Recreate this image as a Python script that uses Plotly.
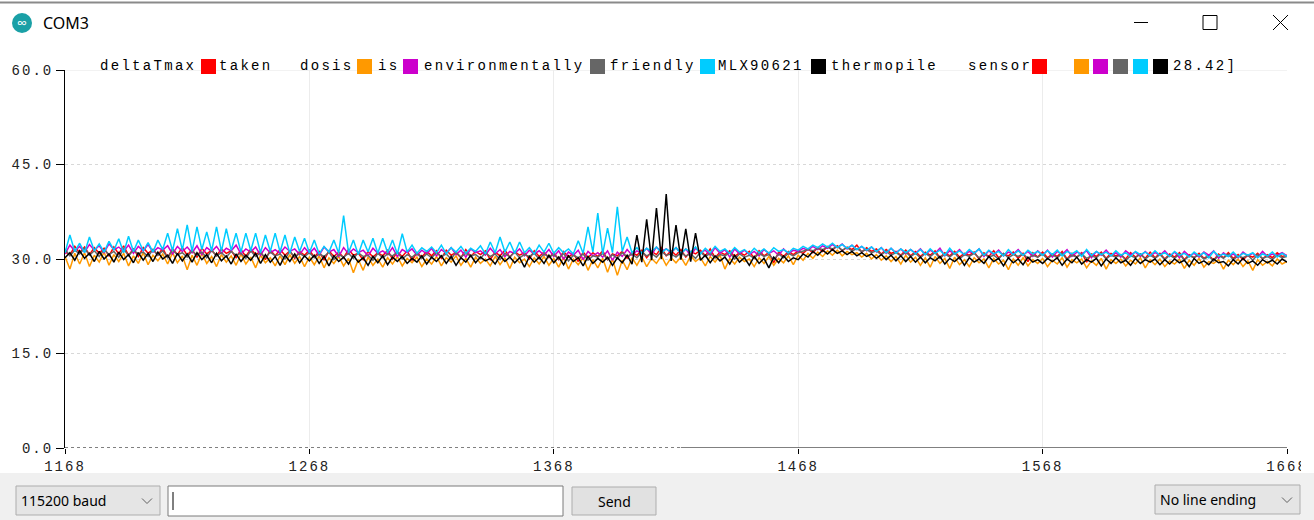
import numpy as np
import plotly.graph_objects as go

W, H = 1314, 520
def px(x): return x / W
def py(y): return 1 - y / H

# ---------------- data ----------------
x_start, x_step = 1168, 2
x_ticks = [1168, 1268, 1368, 1468, 1568, 1668]
x_tick_labels = ["1168", "1268", "1368", "1468", "1568", "1668"]
y_ticks = [0, 15, 30, 45, 60]
y_tick_labels = ["0.0", "15.0", "30.0", "45.0", "60.0"]

taken = [
    31.2, 30.6, 32.0, 31.0, 31.9, 30.7, 31.8, 30.9, 31.7, 30.5, 31.9, 30.8, 32.1, 30.6, 31.6, 30.4, 31.8, 30.9, 31.5, 30.6, 31.7, 30.2, 31.6, 30.7, 31.8,
    30.6, 31.5, 30.3, 31.7, 30.8, 31.4, 30.5, 31.6, 30.9, 31.3, 30.2, 31.5, 30.4, 31.6, 30.7, 31.2, 29.9, 31.4, 30.5, 31.5, 30.6, 31.3, 30.1, 31.2, 30.6,
    31.4, 30.3, 31.2, 29.8, 31.3, 30.4, 31.1, 30.2, 31.5, 30.6, 30.9, 29.9, 31.2, 30.3, 31.0, 30.5, 31.4, 30.0, 31.1, 30.4, 31.3, 29.8, 31.0, 30.3, 31.2,
    30.5, 31.3, 30.1, 31.4, 30.6, 31.0, 30.2, 31.5, 30.4, 31.2, 30.7, 31.3, 29.9, 31.1, 30.5, 31.4, 30.3, 31.2, 30.6, 31.0, 30.0, 31.3, 30.4, 31.1, 30.2,
    31.0, 29.9, 31.2, 30.3, 30.9, 29.6, 31.1, 30.2, 31.0, 30.4, 31.3, 29.9, 30.8, 30.5, 31.2, 30.1, 31.0, 30.6, 31.4, 30.2, 31.2, 30.7, 31.8, 30.5, 31.3,
    30.6, 31.5, 30.3, 31.2, 30.8, 31.4, 30.5, 31.6, 30.2, 31.1, 30.7, 31.3, 30.4, 31.0, 30.6, 31.2, 30.1, 31.3, 30.5, 31.0, 29.4, 31.1, 30.4, 31.2, 30.7,
    31.3, 30.9, 31.6, 31.0, 31.8, 31.2, 32.0, 31.4, 32.1, 31.3, 31.9, 31.5, 32.2, 31.1, 31.8, 31.2, 31.6, 30.8, 31.5, 30.9, 31.2, 30.6, 31.4, 30.5, 31.2,
    30.4, 31.1, 30.6, 31.3, 30.2, 31.0, 30.5, 31.2, 30.3, 30.9, 30.6, 31.1, 30.0, 31.0, 30.4, 31.3, 30.2, 30.8, 30.5, 31.1, 30.1, 30.9, 29.6, 31.0, 30.3,
    31.1, 30.2, 30.8, 30.4, 31.2, 30.0, 30.9, 30.3, 31.0, 29.5, 30.8, 30.4, 31.1, 30.1, 30.9, 30.5, 30.7, 30.0, 31.0, 30.3, 30.8, 30.1, 31.1, 30.2, 30.9,
    30.0, 30.8, 30.3, 31.0, 29.9, 30.7, 30.2, 30.9, 30.1, 30.6, 29.8, 30.8, 30.2, 31.0, 30.1, 30.7, 29.9, 30.6, 30.3, 30.9, 30.0, 30.7, 30.2, 31.0, 30.4,
    30.6,
]

is_ = [
    30.4, 28.4, 30.9, 29.2, 31.0, 28.8, 30.6, 29.5, 31.1, 29.0, 30.7, 29.6, 30.9, 28.9, 30.5, 29.3, 31.0, 29.1, 30.6, 29.7, 30.8, 29.2, 31.0, 29.4, 30.5,
    28.3, 30.6, 29.0, 30.9, 29.3, 30.4, 28.8, 30.7, 29.5, 30.5, 29.0, 30.8, 29.2, 30.3, 28.6, 30.6, 29.4, 30.2, 28.9, 30.5, 29.1, 30.7, 29.3, 30.4, 28.8,
    30.3, 29.1, 30.5, 28.6, 30.2, 29.3, 30.4, 28.9, 30.1, 27.8, 29.9, 28.2, 30.3, 29.0, 30.0, 28.7, 30.2, 29.2, 30.4, 28.9, 30.1, 29.4, 30.3, 28.8, 30.0,
    29.2, 30.4, 28.9, 30.2, 29.5, 30.5, 29.0, 30.1, 28.7, 30.3, 29.3, 30.0, 28.9, 30.4, 29.1, 30.2, 28.5, 30.3, 29.4, 30.0, 28.8, 30.2, 29.2, 30.4, 29.0,
    30.1, 28.7, 30.3, 28.4, 30.0, 29.1, 30.2, 28.2, 29.9, 28.6, 30.1, 27.9, 30.0, 27.4, 29.8, 28.3, 30.2, 29.0, 30.4, 28.8, 30.1, 29.3, 30.5, 29.0, 30.2,
    29.4, 30.3, 29.0, 30.5, 29.6, 30.2, 28.9, 30.4, 29.5, 30.6, 28.4, 30.1, 29.2, 30.3, 29.6, 30.0, 28.8, 30.2, 29.3, 30.4, 29.0, 30.1, 29.4, 30.5, 29.1,
    30.6, 29.8, 30.9, 30.1, 31.1, 30.4, 31.3, 30.6, 31.4, 30.5, 31.2, 30.7, 31.0, 30.3, 30.9, 30.0, 30.7, 29.8, 30.5, 29.6, 30.4, 29.2, 30.6, 29.5, 30.3,
    29.0, 30.2, 28.7, 30.4, 29.3, 30.1, 28.5, 30.3, 29.1, 29.9, 28.8, 30.2, 29.4, 30.0, 28.6, 30.1, 29.2, 29.8, 28.3, 30.0, 29.0, 30.2, 28.9, 29.9, 29.3,
    30.1, 28.8, 29.8, 29.2, 30.2, 28.7, 29.9, 29.4, 30.0, 28.6, 29.7, 29.0, 30.1, 28.4, 29.9, 29.3, 30.0, 28.9, 29.8, 29.2, 30.2, 28.6, 29.9, 29.1, 30.0,
    28.8, 29.7, 29.2, 30.0, 28.5, 29.8, 29.0, 30.1, 28.7, 29.6, 29.3, 29.9, 28.4, 29.8, 29.1, 30.0, 28.8, 29.7, 28.2, 29.9, 29.0, 29.6, 28.9, 30.0, 29.2,
    29.6,
]

environmentally = [
    30.8, 32.2, 31.3, 32.0, 31.1, 32.3, 31.4, 32.1, 31.0, 32.4, 31.5, 31.9, 31.2, 32.2, 30.9, 32.0, 31.3, 32.3, 31.1, 31.8, 31.4, 32.1, 30.8, 32.0, 31.2,
    31.9, 31.0, 32.1, 30.7, 31.8, 31.2, 32.0, 30.9, 31.7, 31.3, 32.2, 30.8, 31.6, 31.1, 31.9, 30.6, 31.8, 31.0, 31.5, 30.9, 31.9, 31.2, 31.6, 30.7, 31.8,
    30.9, 31.7, 30.6, 31.9, 31.1, 31.5, 30.4, 31.8, 30.8, 31.6, 31.0, 31.4, 30.5, 31.7, 30.9, 31.3, 30.7, 31.8, 30.4, 31.5, 31.0, 31.6, 30.6, 31.4, 30.8,
    31.7, 30.5, 31.5, 30.9, 31.8, 30.7, 31.4, 30.3, 31.6, 31.0, 31.3, 30.6, 31.7, 30.8, 31.5, 30.4, 31.2, 30.9, 31.6, 30.5, 31.4, 30.8, 31.3, 30.6, 31.5,
    30.4, 31.3, 30.0, 31.1, 30.6, 31.4, 29.9, 31.2, 30.5, 31.0, 30.3, 31.3, 29.8, 31.1, 30.4, 31.5, 30.6, 31.3, 30.9, 31.7, 30.7, 31.9, 31.2, 31.6, 31.0,
    31.8, 30.8, 31.6, 30.5, 31.7, 31.0, 31.4, 30.6, 31.8, 30.9, 31.5, 30.3, 31.6, 30.8, 31.4, 30.7, 31.2, 30.5, 31.5, 30.9, 31.3, 30.6, 31.6, 30.8, 31.4,
    31.2, 31.7, 31.4, 32.0, 31.5, 32.1, 31.7, 32.3, 31.8, 32.4, 31.6, 32.2, 31.5, 32.0, 31.3, 31.9, 31.1, 31.8, 30.9, 31.7, 31.0, 31.6, 30.8, 31.5, 30.9,
    31.6, 30.7, 31.4, 30.9, 31.7, 30.5, 31.3, 30.8, 31.5, 30.6, 31.2, 30.9, 31.6, 30.4, 31.3, 30.7, 31.4, 30.5, 31.1, 30.8, 31.5, 30.6, 31.2, 30.4, 31.3,
    30.6, 31.4, 30.3, 31.2, 30.7, 31.5, 30.4, 31.1, 30.8, 31.3, 30.2, 31.2, 30.6, 31.4, 30.5, 31.0, 30.3, 31.3, 30.7, 31.1, 30.4, 31.2, 30.5, 31.0, 30.6,
    31.3, 30.4, 31.1, 30.2, 31.2, 30.5, 30.9, 30.3, 31.1, 30.6, 31.3, 30.1, 31.0, 30.4, 30.8, 30.2, 31.1, 30.5, 30.9, 30.3, 31.2, 30.4, 30.8, 30.6, 31.0,
    30.5,
]

friendly = [
    31.6, 30.5, 31.4, 30.8, 31.7, 30.6, 31.3, 30.4, 31.5, 30.7, 31.2, 30.3, 31.6, 30.5, 31.4, 30.8, 31.1, 30.4, 31.5, 30.6, 31.3, 30.2, 31.4, 30.7, 31.0,
    30.3, 31.3, 30.6, 31.1, 30.2, 31.4, 30.5, 31.0, 30.3, 31.2, 30.6, 30.9, 30.1, 31.3, 30.4, 31.0, 30.2, 31.1, 30.5, 30.8, 30.0, 31.2, 30.3, 30.9, 30.4,
    31.0, 30.2, 30.8, 30.4, 31.1, 29.9, 30.7, 30.3, 30.9, 30.1, 31.0, 30.4, 30.6, 29.8, 30.9, 30.2, 30.8, 30.5, 31.1, 30.0, 30.7, 30.3, 30.9, 30.1, 30.8,
    30.2, 31.0, 30.4, 30.8, 30.0, 31.1, 30.3, 30.9, 30.5, 30.7, 30.1, 31.0, 30.4, 30.8, 29.9, 30.9, 30.3, 31.1, 30.2, 30.7, 30.4, 30.9, 30.0, 30.8, 30.3,
    30.7, 30.0, 30.9, 29.7, 30.6, 30.2, 30.8, 29.8, 30.5, 30.3, 30.9, 29.9, 30.7, 30.1, 31.0, 30.4, 30.8, 30.2, 31.1, 30.5, 30.9, 30.3, 31.2, 30.6, 30.8,
    30.3, 31.0, 30.5, 30.8, 30.1, 31.1, 30.4, 30.9, 30.2, 30.7, 30.5, 31.0, 30.0, 30.8, 30.3, 30.6, 30.1, 30.9, 30.4, 30.7, 29.9, 30.8, 30.2, 30.9, 30.5,
    31.0, 31.2, 31.5, 31.3, 31.7, 31.5, 31.9, 31.6, 32.0, 31.4, 31.8, 31.3, 31.6, 31.2, 31.5, 31.0, 31.3, 30.7, 31.2, 30.6, 31.0, 30.5, 31.1, 30.4, 30.9,
    30.2, 30.9, 30.4, 31.0, 30.1, 30.8, 30.3, 31.0, 30.0, 30.7, 30.4, 30.9, 30.2, 30.8, 30.3, 30.6, 30.0, 30.9, 30.2, 30.7, 30.4, 30.8, 30.1, 30.6, 30.3,
    30.8, 30.0, 30.7, 30.2, 30.9, 29.9, 30.6, 30.3, 30.8, 30.1, 30.5, 30.2, 30.9, 30.0, 30.6, 30.3, 30.7, 29.8, 30.5, 30.2, 30.8, 30.0, 30.6, 30.1, 30.7,
    29.9, 30.6, 30.1, 30.8, 29.8, 30.5, 30.2, 30.7, 30.0, 30.4, 29.7, 30.6, 30.1, 30.8, 29.9, 30.5, 30.2, 30.6, 29.8, 30.7, 30.1, 30.4, 29.9, 30.6, 30.2,
    30.4,
]

MLX90621 = [
    31.0, 33.8, 31.2, 32.5, 31.0, 33.5, 31.3, 32.4, 31.1, 32.8, 31.4, 33.2, 31.0, 33.6, 31.2, 33.0, 31.3, 32.6, 31.1, 33.0, 31.5, 34.1, 31.3, 34.8, 31.4,
    35.4, 31.2, 35.1, 31.5, 34.3, 31.3, 35.1, 31.2, 34.8, 31.4, 34.1, 31.1, 34.1, 31.3, 34.1, 31.0, 33.8, 31.2, 34.1, 31.1, 33.8, 30.9, 33.5, 31.2, 33.3,
    31.0, 33.0, 30.8, 32.0, 31.1, 33.0, 30.9, 36.9, 31.0, 33.0, 30.7, 33.0, 31.1, 33.3, 30.9, 33.3, 31.0, 33.0, 30.8, 34.0, 31.1, 32.2, 30.9, 31.8, 31.2,
    31.9, 31.0, 32.2, 30.8, 31.8, 31.1, 32.0, 30.9, 31.7, 31.2, 32.1, 30.8, 32.7, 31.0, 33.5, 31.1, 32.7, 30.9, 32.7, 31.0, 31.8, 30.8, 32.2, 31.1, 32.5,
    30.9, 31.8, 31.0, 31.6, 30.8, 32.9, 30.9, 35.1, 31.1, 37.3, 30.8, 34.9, 31.0, 38.3, 31.2, 33.5, 31.0, 31.8, 30.9, 31.7, 31.2, 31.9, 31.0, 31.6, 31.1,
    31.8, 30.9, 31.6, 31.1, 31.9, 30.8, 31.7, 31.0, 32.0, 31.2, 31.6, 30.9, 31.8, 31.1, 31.5, 30.8, 31.7, 31.0, 31.6, 30.9, 31.8, 31.2, 31.5, 31.0, 31.7,
    31.4, 32.0, 31.6, 32.2, 31.8, 32.4, 31.9, 32.5, 31.8, 32.3, 31.7, 32.2, 31.5, 32.0, 31.4, 31.9, 31.2, 31.8, 31.0, 31.7, 30.9, 31.6, 31.0, 31.5, 30.8,
    31.5, 30.7, 31.6, 30.9, 31.4, 30.6, 31.7, 30.8, 31.3, 30.7, 31.5, 30.9, 31.6, 30.6, 31.4, 30.8, 31.2, 30.5, 31.5, 30.7, 31.3, 30.6, 31.4, 30.8, 31.2,
    30.6, 31.3, 30.7, 31.4, 30.5, 31.2, 30.8, 31.3, 30.4, 31.5, 30.6, 31.2, 30.7, 31.1, 30.5, 31.3, 30.6, 31.0, 30.4, 31.2, 30.7, 31.1, 30.5, 31.3, 30.6,
    31.0, 30.4, 31.2, 30.6, 30.9, 30.3, 31.1, 30.5, 31.0, 30.2, 31.2, 30.5, 30.8, 30.4, 31.1, 30.3, 30.9, 30.6, 31.0, 30.2, 30.8, 30.5, 31.1, 30.3, 30.9,
    30.4,
]

thermopile = [
    30.2, 31.0, 29.8, 31.3, 30.1, 30.9, 29.6, 31.2, 30.0, 30.8, 29.5, 31.1, 29.9, 30.7, 29.4, 31.0, 29.8, 30.9, 29.6, 31.1, 30.0, 30.6, 29.3, 30.9, 29.7,
    30.8, 29.5, 31.0, 29.9, 30.7, 29.4, 30.9, 29.7, 30.5, 29.2, 30.8, 29.6, 30.6, 29.8, 30.9, 29.3, 30.7, 29.5, 30.4, 29.0, 30.6, 29.6, 30.8, 29.4, 30.5,
    29.7, 30.6, 29.3, 30.4, 28.9, 30.5, 29.6, 30.3, 29.2, 30.6, 29.5, 30.2, 29.0, 30.4, 29.4, 30.5, 29.1, 30.3, 29.6, 30.4, 29.3, 30.1, 29.5, 30.5, 29.2,
    30.3, 29.6, 30.5, 29.3, 30.4, 29.0, 30.2, 29.5, 30.6, 29.4, 30.3, 29.7, 30.1, 29.2, 30.5, 29.6, 30.3, 29.4, 30.2, 28.7, 30.4, 29.5, 30.3, 29.3, 30.6,
    29.4, 30.3, 29.1, 30.5, 29.6, 30.2, 28.9, 30.4, 29.3, 30.1, 29.5, 30.3, 29.0, 30.2, 29.4, 30.6, 29.2, 33.8, 29.5, 36.3, 29.8, 38.1, 30.0, 40.3, 29.7,
    35.4, 29.9, 34.8, 29.6, 34.1, 29.8, 30.6, 29.4, 30.5, 29.7, 30.3, 29.2, 30.6, 29.5, 30.2, 29.0, 30.4, 29.3, 30.1, 28.6, 30.3, 29.4, 30.5, 29.6, 30.2,
    29.9, 30.8, 30.3, 31.2, 30.6, 31.4, 30.8, 31.5, 30.9, 31.3, 30.7, 31.2, 30.5, 31.0, 30.4, 30.8, 30.1, 30.7, 29.9, 30.6, 29.7, 30.5, 29.6, 30.4, 29.5,
    30.3, 29.4, 30.2, 29.7, 30.4, 29.2, 30.1, 29.6, 30.3, 29.0, 30.2, 29.5, 30.0, 29.3, 30.4, 29.6, 30.1, 28.9, 30.2, 29.4, 30.0, 29.1, 30.3, 29.5, 29.9,
    29.3, 30.1, 29.6, 30.2, 29.0, 30.0, 29.4, 30.3, 29.2, 29.9, 29.5, 30.1, 28.9, 30.0, 29.3, 30.2, 29.4, 29.8, 29.0, 30.1, 29.3, 29.9, 29.5, 30.0, 29.1,
    29.9, 29.2, 30.0, 29.4, 29.8, 28.8, 30.1, 29.3, 29.7, 29.1, 30.0, 29.4, 29.6, 28.9, 29.9, 29.2, 30.1, 29.3, 29.7, 29.0, 29.9, 29.4, 29.8, 29.2, 30.0,
    29.5,
]

series_names = ["taken", "is", "environmentally", "friendly", "MLX90621", "thermopile"]
series_values = [taken, is_, environmentally, friendly, MLX90621, thermopile]
series_colors = ["#ff0000", "#ff9900", "#cc00cc", "#666666", "#00ccff", "#000000"]

# legend text of the serial plotter header
legend_words = ["deltaTmax", "taken", "dosis", "is", "environmentally", "friendly",
                "MLX90621", "thermopile", "sensor", "28.42]"]
legend_word_x = [100, 219, 300, 378, 424, 610, 718, 831, 968, 1173]
legend_square_colors = ["#ff0000", "#ff9900", "#cc00cc", "#666666", "#00ccff", "#000000",
                        "#ff0000", "#ff9900", "#cc00cc", "#666666", "#00ccff", "#000000"]
legend_square_x = [201, 357, 403, 590, 700, 811, 1032, 1074, 1093, 1113, 1133, 1153]

MONO = "Liberation Mono, Courier New, monospace"
UI = "Noto Sans, Open Sans, sans-serif"

def spaced(t, sp=2.3):
    return f'<span style="letter-spacing:{sp}px">{t}</span>'

fig = go.Figure()
for name, vals, col in zip(series_names, series_values, series_colors):
    xs = x_start + x_step * np.arange(len(vals))
    fig.add_trace(go.Scatter(x=xs, y=vals, mode="lines", name=name,
                             line=dict(color=col, width=1.5), hoverinfo="skip"))

shapes = []
annotations = []

# window chrome
shapes.append(dict(type="line", xref="paper", yref="paper", x0=0, x1=1, y0=py(2.5), y1=py(2.5),
                   line=dict(color="#8a8a8a", width=2), layer="above"))
shapes.append(dict(type="circle", xref="paper", yref="paper", x0=px(12), x1=px(32), y0=py(33), y1=py(13),
                   fillcolor="#1aa0a6", line=dict(width=0), layer="above"))
annotations.append(dict(text="∞", x=px(22), y=py(22.5), xref="paper", yref="paper", showarrow=False,
                        font=dict(family=UI, size=14, color="white"), xanchor="center", yanchor="middle"))
annotations.append(dict(text="COM3", x=px(41), y=py(23), xref="paper", yref="paper", showarrow=False,
                        font=dict(family=UI, size=16, color="#000"), xanchor="left", yanchor="middle"))
shapes.append(dict(type="line", xref="paper", yref="paper", x0=px(1134), x1=px(1148), y0=py(22.5), y1=py(22.5),
                   line=dict(color="#000", width=1), layer="above"))
shapes.append(dict(type="rect", xref="paper", yref="paper", x0=px(1203), x1=px(1217), y0=py(29.5), y1=py(15.5),
                   line=dict(color="#000", width=1), layer="above"))
shapes.append(dict(type="line", xref="paper", yref="paper", x0=px(1273), x1=px(1288), y0=py(15), y1=py(30),
                   line=dict(color="#000", width=1), layer="above"))
shapes.append(dict(type="line", xref="paper", yref="paper", x0=px(1273), x1=px(1288), y0=py(30), y1=py(15),
                   line=dict(color="#000", width=1), layer="above"))

# legend header
for word, wx in zip(legend_words, legend_word_x):
    annotations.append(dict(text=spaced(word), x=px(wx - 2), y=py(66), xref="paper", yref="paper",
                            showarrow=False, xanchor="left", yanchor="middle",
                            font=dict(family=MONO, size=14, color="#000")))
for col, sx in zip(legend_square_colors, legend_square_x):
    shapes.append(dict(type="rect", xref="paper", yref="paper", x0=px(sx), x1=px(sx + 15),
                       y0=py(74), y1=py(59), fillcolor=col, line=dict(width=0), layer="above"))

# plot frame lines
shapes.append(dict(type="line", xref="x", yref="y", x0=1168, x1=1668, y0=60, y1=60,
                   line=dict(color="#e6e6e6", width=1), layer="below"))
shapes.append(dict(type="line", xref="x", yref="y", x0=1168, x1=1420, y0=0, y1=0,
                   line=dict(color="#000", width=1, dash="dot"), layer="above"))
shapes.append(dict(type="line", xref="x", yref="y", x0=1420, x1=1668, y0=0, y1=0,
                   line=dict(color="#000", width=1), layer="above"))

# bottom control bar
shapes.append(dict(type="rect", xref="paper", yref="paper", x0=0, x1=1, y0=0, y1=py(473),
                   fillcolor="#f0f0f0", line=dict(width=0), layer="below"))
def box(x0, y0, x1, y1, fill, edge):
    shapes.append(dict(type="rect", xref="paper", yref="paper", x0=px(x0), x1=px(x1), y0=py(y1), y1=py(y0),
                       fillcolor=fill, line=dict(color=edge, width=1), layer="above"))
def chevron(cx, cy):
    p = f"M {px(cx-5)} {py(cy-2.5)} L {px(cx)} {py(cy+2.5)} L {px(cx+5)} {py(cy-2.5)}"
    shapes.append(dict(type="path", xref="paper", yref="paper", path=p,
                       line=dict(color="#606060", width=1), layer="above"))
def label(t, x, y, anchor="left", size=14):
    annotations.append(dict(text=t, x=px(x), y=py(y), xref="paper", yref="paper", showarrow=False,
                            xanchor=anchor, yanchor="middle", font=dict(family=UI, size=size, color="#000")))

box(16, 486, 160, 515, "#e5e5e5", "#adadad")
label("115200 baud", 19, 500)
chevron(147, 501)
box(168, 486, 563, 516, "#ffffff", "#7a7a7a")
shapes.append(dict(type="line", xref="paper", yref="paper", x0=px(173), x1=px(173), y0=py(510), y1=py(492),
                   line=dict(color="#000", width=1), layer="above"))
box(572, 487, 656, 515, "#e1e1e1", "#adadad")
label("Send", 614, 501, "center")
box(1155, 485, 1300, 514, "#e5e5e5", "#adadad")
label("No line ending", 1158, 499)
chevron(1287, 500)

# the plotter canvas ends just before the window edge, clipping the last tick label
shapes.append(dict(type="rect", xref="paper", yref="paper", x0=px(1301), x1=1, y0=py(472), y1=py(452),
                   fillcolor="white", line=dict(width=0), layer="above"))

fig.update_layout(
    width=W, height=H, autosize=False,
    margin=dict(l=0, r=0, t=0, b=0, pad=0, autoexpand=False),
    paper_bgcolor="white", plot_bgcolor="white",
    showlegend=False,
    shapes=shapes, annotations=annotations,
    xaxis=dict(domain=[px(65), px(1287)], range=[1168, 1668], tickmode="array",
               tickvals=x_ticks, ticktext=[spaced(t, 2.0) for t in x_tick_labels],
               ticks="outside", ticklen=5, tickcolor="#000", tickwidth=1, automargin=False,
               showgrid=True, gridcolor="#ececec", gridwidth=1, zeroline=False, showline=False,
               tickfont=dict(family=MONO, size=14, color="#222"), fixedrange=True),
    yaxis=dict(domain=[py(448), py(70)], range=[0, 60], tickmode="array",
               tickvals=y_ticks, ticktext=[spaced(t, 2.0) for t in y_tick_labels],
               ticks="outside", ticklen=8, tickcolor="#000", tickwidth=1, automargin=False,
               showgrid=True, gridcolor="#d8d8d8", gridwidth=1, griddash="dot",
               zeroline=False, showline=True, linecolor="#000", linewidth=1,
               tickfont=dict(family=MONO, size=14, color="#222"), fixedrange=True),
)

fig.write_html(
    "out.html",
    config={"displayModeBar": False, "staticPlot": True},
    post_script="document.body.style.margin='0';",
)
